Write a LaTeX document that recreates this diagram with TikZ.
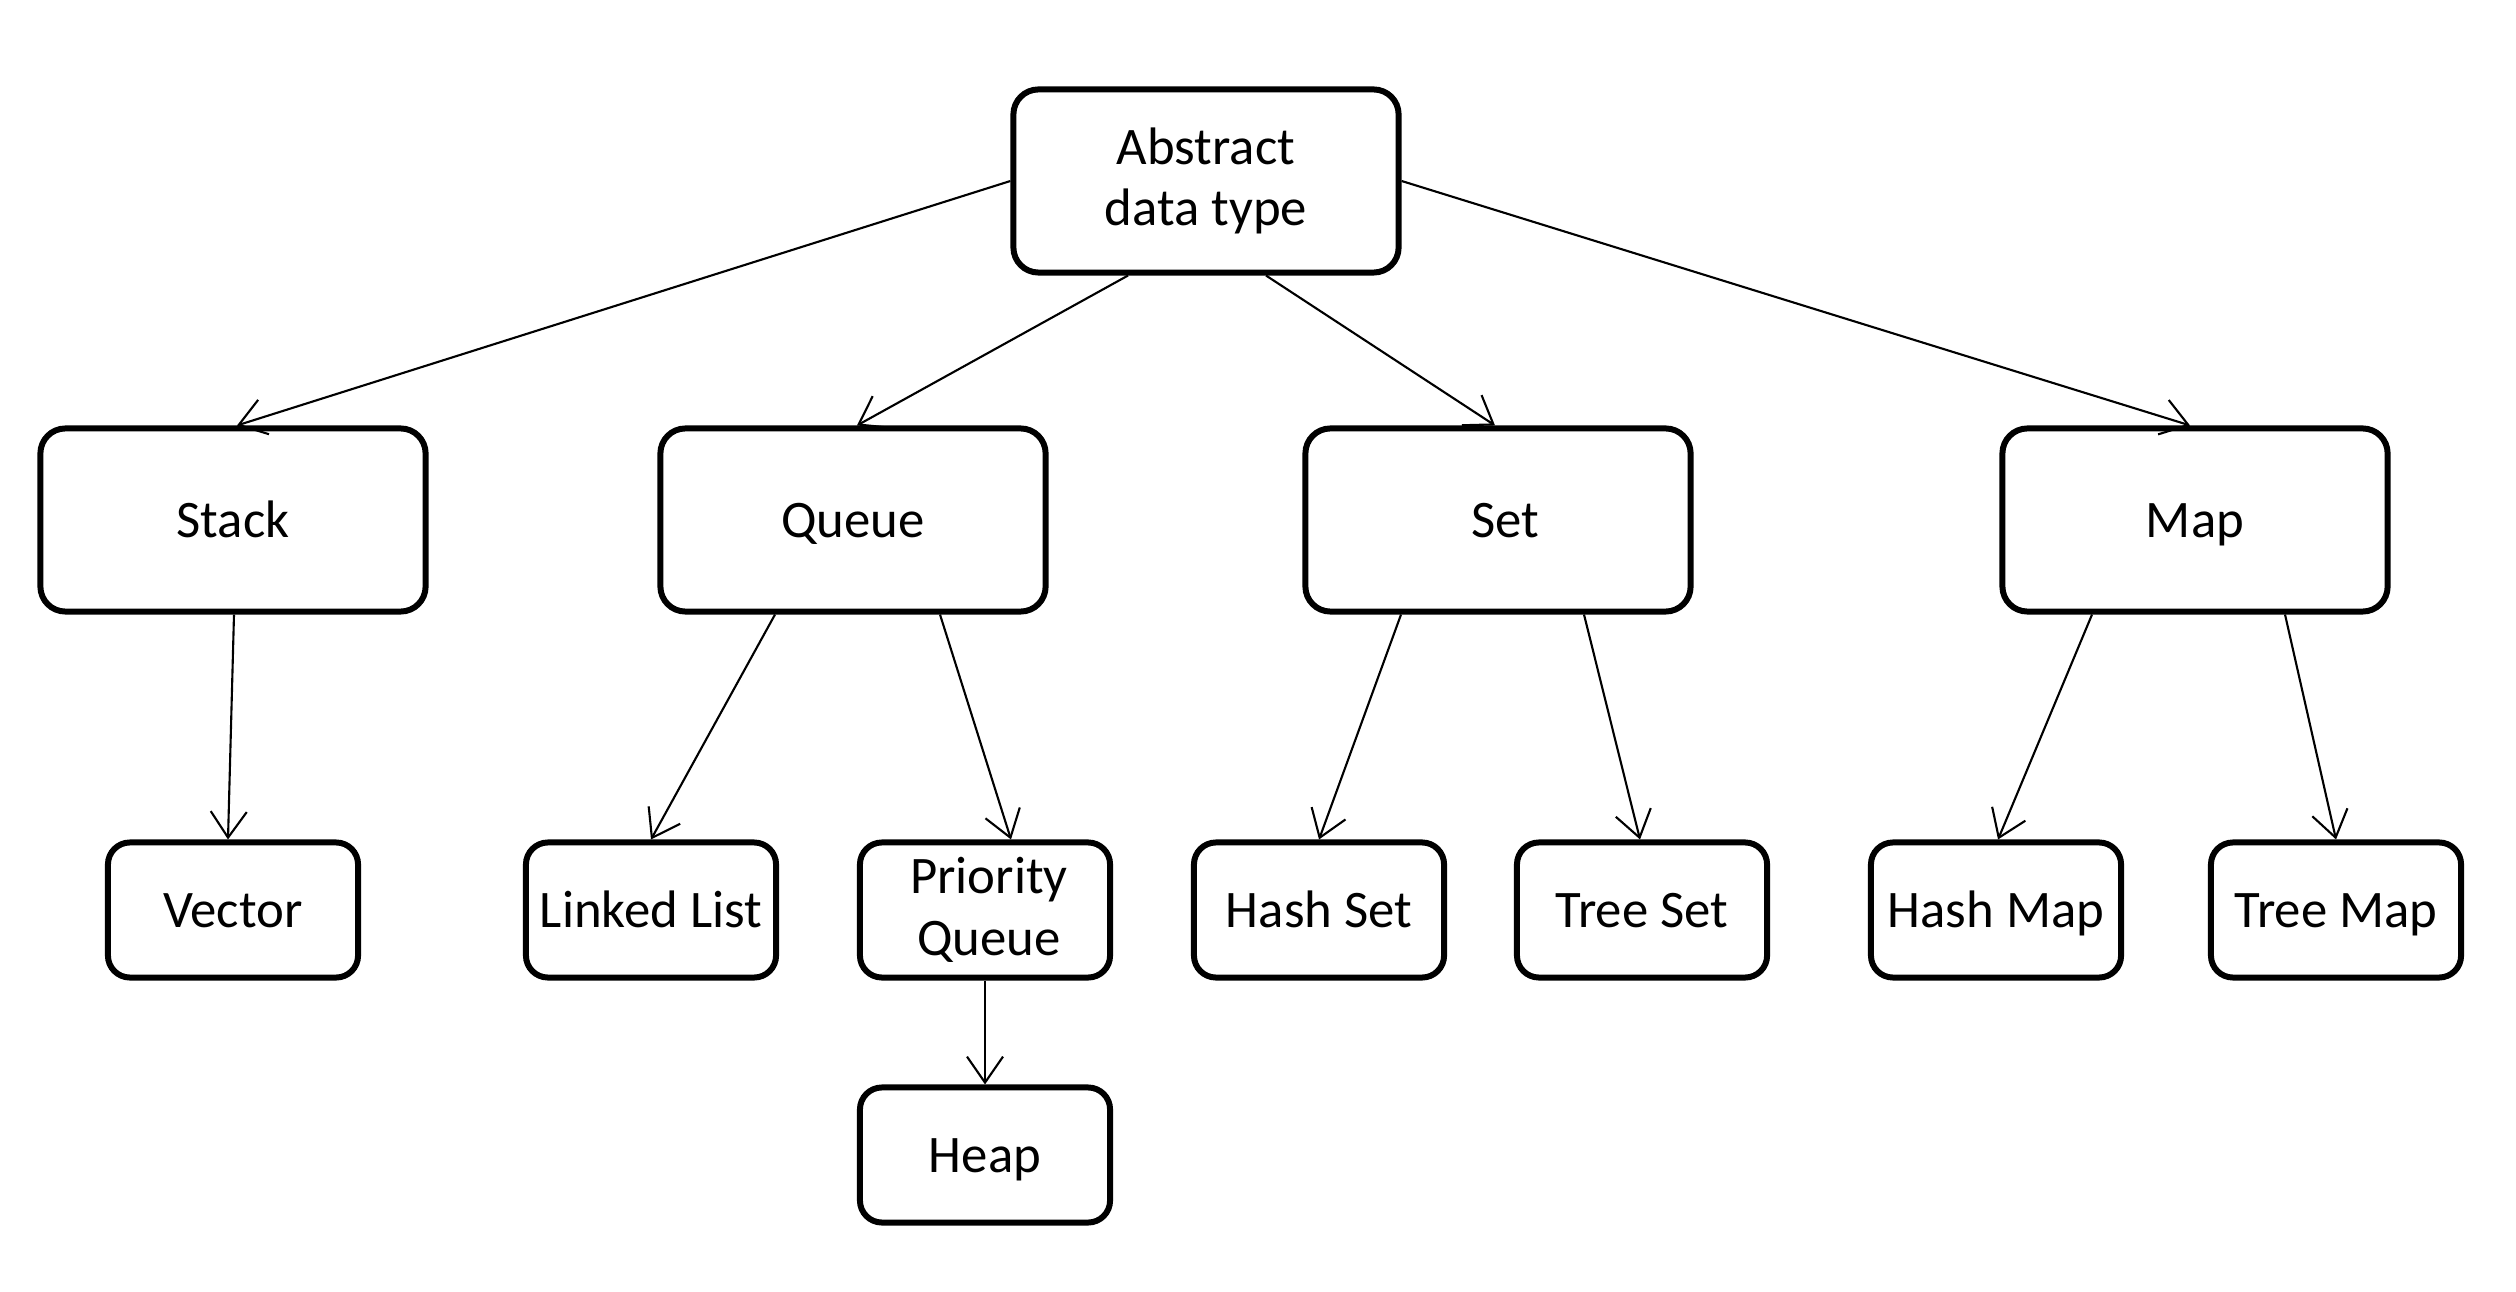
\documentclass[tikz,border=0pt]{standalone}
\usepackage{fontspec}
\setmainfont{Carlito}
\usetikzlibrary{arrows.meta,calc}

\begin{document}
\begin{tikzpicture}[x=0.01cm,y=-0.01cm]
\tikzset{
  every node/.style={inner sep=0pt,align=center,font=\fontsize{15pt}{17.5pt}\selectfont},
  bigbox/.style={draw,line width=1.7pt,rounded corners=0.25cm,minimum width=3.85cm,minimum height=1.83cm},
  smallbox/.style={draw,line width=1.7pt,rounded corners=0.22cm,minimum width=2.5cm,minimum height=1.35cm},
  oneline/.style={text height=12pt,text depth=2.3pt},
  link/.style={line width=0.6pt,-{Straight Barb[length=2.6mm,width=3.6mm]}}
}
\useasboundingbox (0,0) rectangle (2516,1292);
\node[bigbox] (adt) at (1206,181) {Abstract\\data type};
\node[bigbox,oneline] (stack) at (233,520) {Stack};
\node[bigbox,oneline] (queue) at (853,520) {Queue};
\node[bigbox,oneline] (set) at (1498,520) {\hspace{0.15cm}Set};
\node[bigbox,oneline] (map) at (2195,520) {Map};
\node[smallbox,oneline] (vector) at (233,910) {Vector};
\node[smallbox,oneline] (llist) at (651,910) {Linked List};
\node[smallbox] (pqueue) at (985,910) {\hspace{0.08cm}Priority\\\hspace{0.08cm}Queue};
\node[smallbox,oneline] (hset) at (1319,910) {Hash Set};
\node[smallbox,oneline] (tset) at (1642,910) {Tree Set};
\node[smallbox,oneline] (hmap) at (1996,910) {Hash Map};
\node[smallbox,oneline] (tmap) at (2336,910) {Tree Map};
\node[smallbox,oneline] (heap) at (985,1155) {Heap};
% top level
\draw[link] (adt.west) -- ($(stack.north)+(4,0)$);
\draw[link] ($(adt.south)+(-78,0)$) -- ($(queue.north)+(4,0)$);
\draw[link] ($(adt.south)+(60,0)$) -- ($(set.north)+(-3,0)$);
\draw[link] (adt.east) -- ($(map.north)+(-5,0)$);
% second level
\draw[link] ($(stack.south)+(1,0)$) -- ($(vector.north)+(-5,0)$);
\draw[link] ($(queue.south)+(-78,0)$) -- (llist.north);
\draw[link] ($(queue.south)+(87,0)$) -- ($(pqueue.north)+(26,0)$);
\draw[link] ($(set.south)+(-97,0)$) -- (hset.north);
\draw[link] ($(set.south)+(86,0)$) -- ($(tset.north)+(-2,0)$);
\draw[link] ($(map.south)+(-103,0)$) -- ($(hmap.north)+(2,0)$);
\draw[link] ($(map.south)+(90,0)$) -- (tmap.north);
\draw[link] (pqueue.south) -- (heap.north);
\end{tikzpicture}
\end{document}
